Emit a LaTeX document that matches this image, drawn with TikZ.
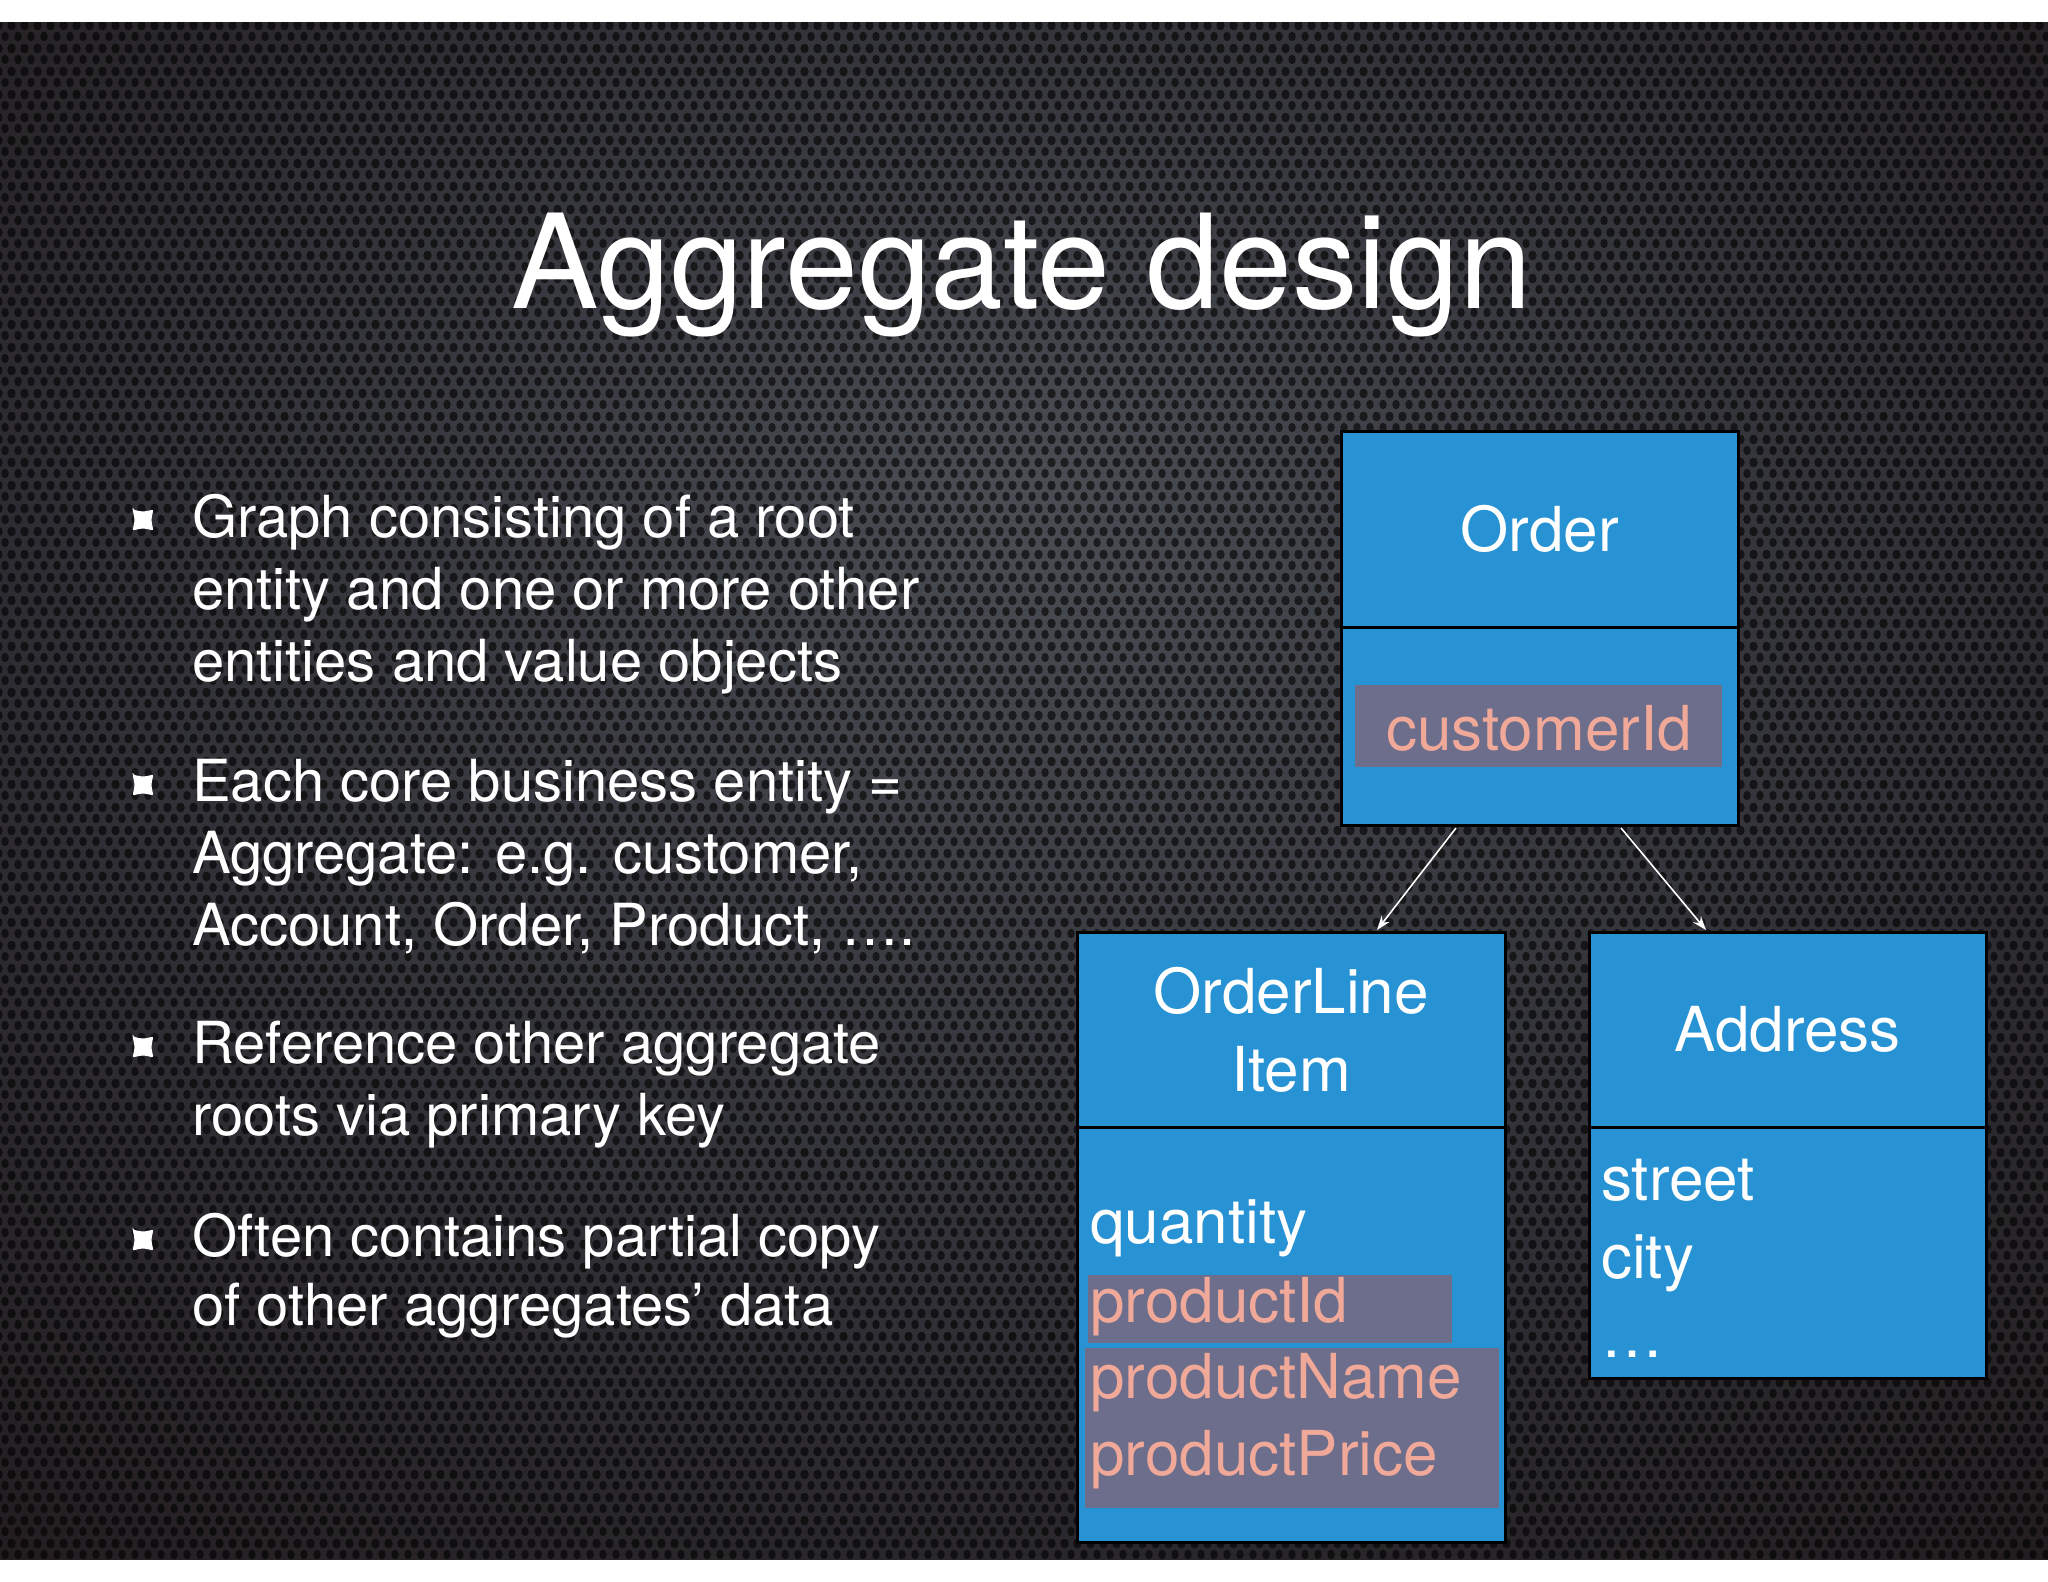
\documentclass[tikz,border=0pt]{standalone}
\usepackage{fontspec}
\setmainfont{TeX Gyre Heros}
\usetikzlibrary{arrows.meta,patterns}
\definecolor{boxblue}{HTML}{2792D4}
\definecolor{hlgrey}{HTML}{6C6E8C}
\definecolor{salmon}{HTML}{F0A898}
\definecolor{bgin}{HTML}{4A4D54}
\definecolor{bgmid}{HTML}{303036}
\definecolor{bgout}{HTML}{160C0C}
\pgfdeclarepatternformonly{mesh}{\pgfqpoint{0pt}{0pt}}{\pgfqpoint{13pt}{22.5pt}}{\pgfqpoint{13pt}{22.5pt}}{%
  \pgfpathellipse{\pgfqpoint{6.5pt}{5.625pt}}{\pgfqpoint{4pt}{0pt}}{\pgfqpoint{0pt}{4.8pt}}%
  \pgfpathellipse{\pgfqpoint{0pt}{16.875pt}}{\pgfqpoint{4pt}{0pt}}{\pgfqpoint{0pt}{4.8pt}}%
  \pgfpathellipse{\pgfqpoint{13pt}{16.875pt}}{\pgfqpoint{4pt}{0pt}}{\pgfqpoint{0pt}{4.8pt}}%
  \pgfusepath{fill}}
\pgfdeclareradialshading{bgshade}{\pgfpoint{0bp}{10bp}}{color(0bp)=(bgin); color(22bp)=(bgmid); color(50bp)=(bgout)}
\tikzset{
  bodytext/.style={anchor=base west, inner sep=0pt, text=white, font=\fontsize{58}{72}\selectfont},
  boxpart/.style={draw=black, line width=3pt, fill=boxblue, inner sep=0pt, outer sep=0pt,
    text=white, font=\fontsize{62}{78}\selectfont, align=center},
  field/.style={anchor=base west, inner sep=0pt, text=white, font=\fontsize{62}{78}\selectfont},
  hlfield/.style={field, text=salmon},
  hlbox/.style={fill=hlgrey},
  link/.style={draw=white, line width=1.6pt, -{Stealth[length=14pt,width=10pt]}},
  bulletmark/.pic={\fill[white, rounded corners=2pt] (-10.5,-10.5) .. controls (0,-8) .. (10.5,-10.5) .. controls (8,0) .. (10.5,10.5) .. controls (0,8) .. (-10.5,10.5) .. controls (-8,0) .. cycle;}
}
\begin{document}
\begin{tikzpicture}[x=1pt,y=-1pt]
\useasboundingbox (0,0) rectangle (2048,1582);
\fill[white] (0,0) rectangle (2048,1582);
\shade[shading=bgshade] (0,22) rectangle (2048,1559);
\fill[pattern=mesh, pattern color=black, fill opacity=0.6] (0,22) rectangle (2048,1559);

% title
\node[anchor=base, inner sep=0pt, text=white, font=\fontsize{131}{131}\selectfont] (title) at (1022,308) {Aggregate design};

% bullets
\pic at (143,520) {bulletmark};
\pic at (143,785) {bulletmark};
\pic at (143,1047) {bulletmark};
\pic at (143,1240) {bulletmark};
\node[bodytext] (b1a) at (192,537) {Graph consisting of a root};
\node[bodytext] (b1b) at (192,609) {entity and one or more other};
\node[bodytext] (b1c) at (192,681) {entities and value objects};
\node[bodytext] (b2a) at (192,801) {Each core business entity =};
\node[bodytext] (b2b) at (192,873) {Aggregate: e.g. customer,};
\node[bodytext] (b2c) at (192,945) {Account, Order, Product, ….};
\node[bodytext] (b3a) at (192,1063) {Reference other aggregate};
\node[bodytext] (b3b) at (192,1135) {roots via primary key};
\node[bodytext] (b4a) at (192,1256) {Often contains partial copy};
\node[bodytext] (b4b) at (192,1325) {of other aggregates’ data};

% Order
\node[boxpart, minimum width=397pt, minimum height=196pt] (orderhead) at (1539.5,529) {Order};
\node[boxpart, minimum width=397pt, minimum height=198pt] (orderbody) at (1539.5,726) {};
\fill[hlbox] (1355,685) rectangle (1722,767);
\node[anchor=base, inner sep=0pt, text=salmon, font=\fontsize{62}{78}\selectfont] (custid) at (1539,750) {customerId};

% OrderLine Item
\node[boxpart, minimum width=428pt, minimum height=195pt] (olhead) at (1291,1029.5) {OrderLine\\Item};
\node[boxpart, minimum width=428pt, minimum height=415pt] (olbody) at (1291,1334.5) {};
\fill[hlbox] (1088,1275) rectangle (1452,1343);
\fill[hlbox] (1085,1348) rectangle (1499,1508);
\node[field] (qty) at (1090,1243) {quantity};
\node[hlfield] (pid) at (1090,1322) {productId};
\node[hlfield] (pname) at (1090,1398) {productName};
\node[hlfield] (pprice) at (1090,1475) {productPrice};

% Address
\node[boxpart, minimum width=397pt, minimum height=195pt] (addrhead) at (1787.5,1029.5) {Address};
\node[boxpart, minimum width=397pt, minimum height=251pt] (addrbody) at (1787.5,1252.5) {};
\node[field] (street) at (1601,1200) {street};
\node[field] (city) at (1601,1278) {city};
\node[field] (more) at (1601,1357) {…};

% connectors
\draw[link] ([xshift=-83.5pt,yshift=-3pt]orderbody.south) -- ([xshift=86pt,yshift=2pt]olhead.north);
\draw[link] ([xshift=81.5pt,yshift=-3pt]orderbody.south) -- ([xshift=-81.5pt,yshift=2pt]addrhead.north);
\end{tikzpicture}
\end{document}
